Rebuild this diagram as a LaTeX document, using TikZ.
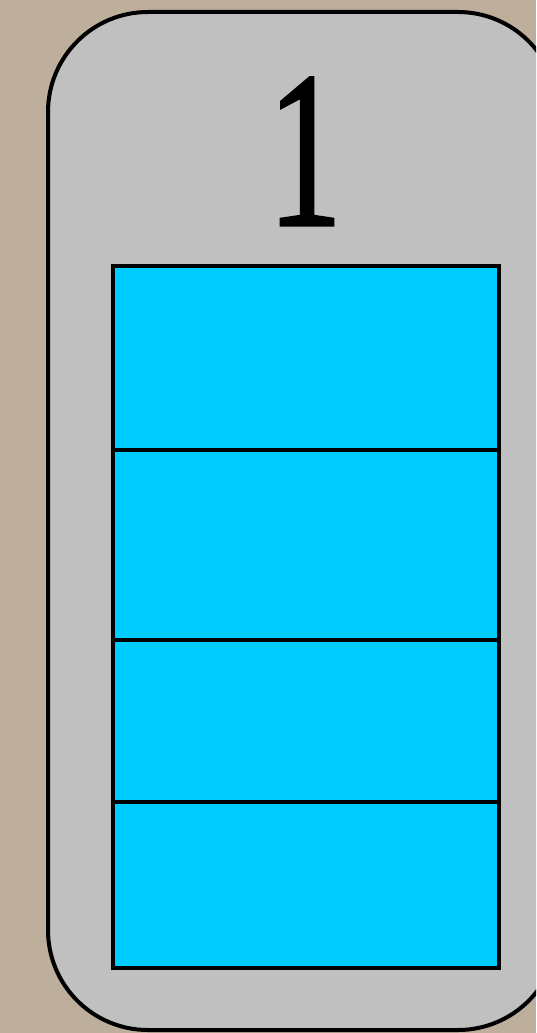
\documentclass[tikz,border=0pt]{standalone}
\usepackage{graphicx}
\usepackage{fontspec}
\setmainfont{Liberation Serif}
\newfontfamily\numfont[FakeBold=1.4]{Liberation Serif}
\definecolor{sandbg}{RGB}{190,174,156}
\definecolor{silverbox}{RGB}{192,192,192}
\definecolor{cyancell}{RGB}{0,204,255}
\begin{document}
\begin{tikzpicture}[x=1pt, y=-1pt,
  frame/.style={draw,line width=4pt,rounded corners=100pt,fill=silverbox,minimum width=510pt,minimum height=1018pt,inner sep=0pt},
  cell/.style={draw,line width=3.5pt,fill=cyancell,minimum width=386pt,inner sep=0pt,outer sep=0pt}]
  \useasboundingbox (0,0) rectangle (536,1033);
  \clip (0,0) rectangle (536,1033);
  \fill[sandbg] (0,0) rectangle (536,1033);
  \node[frame] (box) at (303,521) {};
  \node[font=\numfont\fontsize{223}{223}\selectfont,inner sep=0pt,anchor=base] (num) at (305,225) {\scalebox{0.67}[1]{1}};
  % stacked cells
  \node[cell,minimum height=184pt] (c1) at (306,358) {};
  \node[cell,minimum height=190pt,anchor=north] (c2) at (c1.south) {};
  \node[cell,minimum height=162pt,anchor=north] (c3) at (c2.south) {};
  \node[cell,minimum height=166pt,anchor=north] (c4) at (c3.south) {};
\end{tikzpicture}
\end{document}
